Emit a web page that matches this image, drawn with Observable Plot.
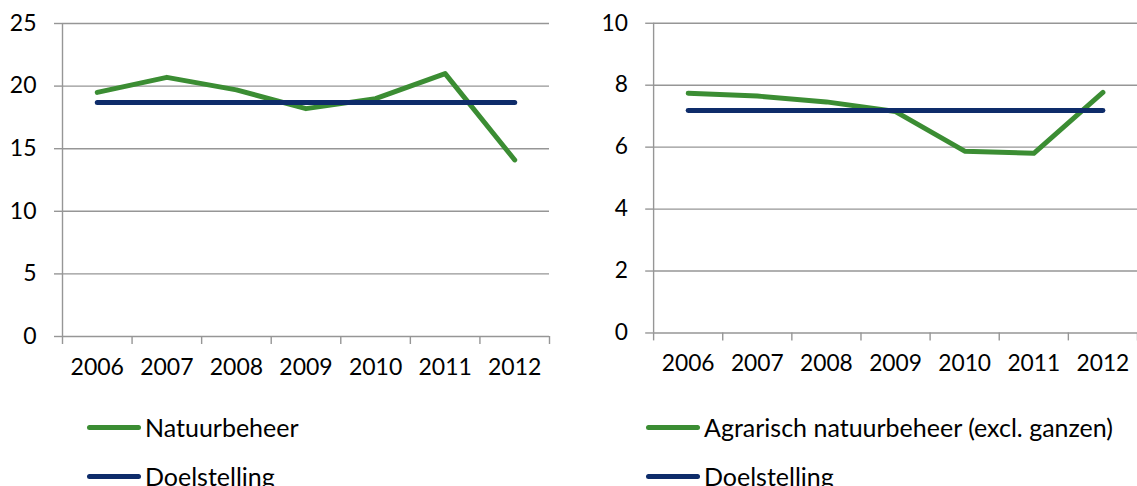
<!DOCTYPE html>
<html>
<head>
<meta charset="utf-8">
<script src="https://cdn.jsdelivr.net/npm/d3@7"></script>
<script src="https://cdn.jsdelivr.net/npm/@observablehq/plot@0.6"></script>
<style>
  html, body { margin: 0; padding: 0; background: #fff; overflow: hidden; width: 1137px; height: 486px; }
  #wrap { position: relative; width: 1137px; height: 486px; font-family: Lato, "Open Sans", sans-serif; }
  .panel { position: absolute; top: 0; }
  .leg { position: absolute; display: flex; align-items: center; font-size: 25px; color: #000; white-space: nowrap; }
  .sw { width: 54px; height: 5px; border-radius: 3px; margin-right: 4px; }
</style>
</head>
<body>
<div id="wrap">
  <div class="panel" id="left" style="left:0"></div>
  <div class="panel" id="right" style="left:568px"></div>
</div>
<script>
const years = [2006, 2007, 2008, 2009, 2010, 2011, 2012];
const natuurbeheer = [19.5, 20.7, 19.7, 18.2, 19.0, 21.0, 14.1];
const doelLeft = [18.7, 18.7, 18.7, 18.7, 18.7, 18.7, 18.7];
const agrarisch = [7.74, 7.65, 7.46, 7.15, 5.87, 5.80, 7.77];
const doelRight = [7.18, 7.18, 7.18, 7.18, 7.18, 7.18, 7.18];
const leftTicks = [0, 5, 10, 15, 20, 25];
const rightTicks = [0, 2, 4, 6, 8, 10];
const seriesNames = {
  left: ["Natuurbeheer", "Doelstelling"],
  right: ["Agrarisch natuurbeheer (excl. ganzen)", "Doelstelling"]
};
const GREEN = "#3b8d33";
const NAVY = "#0e2c6a";
const GRID = "#969696";

const boundaries = years.map(y => y - 0.5).concat([years[years.length - 1] + 0.5]);

function panel(values, ticks, ymax, width, marginLeft, marginRight) {
  const green = years.map((y, i) => ({year: y, v: values[0][i]}));
  const navy = years.map((y, i) => ({year: y, v: values[1][i]}));
  return Plot.plot({
    width, height: 400,
    marginLeft, marginRight, marginTop: 23, marginBottom: 64,
    style: {fontFamily: "Lato, 'Open Sans', sans-serif", fontSize: "23px", color: "#000", background: "transparent", overflow: "visible"},
    x: {type: "linear", domain: [boundaries[0], boundaries[boundaries.length - 1]]},
    y: {domain: [0, ymax]},
    marks: [
      Plot.gridY(ticks, {stroke: GRID, strokeOpacity: 1, strokeWidth: 1.4}),
      Plot.ruleX([boundaries[0]], {stroke: GRID, strokeWidth: 1.4}),
      Plot.axisY(ticks, {tickSize: 8, tickPadding: 18, stroke: GRID, strokeWidth: 1.4, strokeOpacity: 1, label: null, fontSize: 23}),
      Plot.axisX(boundaries, {tickSize: 8, tickFormat: () => "", stroke: GRID, strokeWidth: 1.4, strokeOpacity: 1, label: null}),
      Plot.axisX(years, {tickSize: 0, tickPadding: 22, tickFormat: d => String(d), label: null, fontSize: 23}),
      Plot.lineY(green, {x: "year", y: "v", stroke: GREEN, strokeWidth: 5, strokeLinecap: "round", strokeLinejoin: "round"}),
      Plot.lineY(navy, {x: "year", y: "v", stroke: NAVY, strokeWidth: 5, strokeLinecap: "round", strokeLinejoin: "round"})
    ]
  });
}

document.getElementById("left").append(panel([natuurbeheer, doelLeft], leftTicks, 25, 568, 62, 19));
document.getElementById("right").append(panel([agrarisch, doelRight], rightTicks, 10, 575, 86, 0));

function legend(x, y, color, text) {
  const d = document.createElement("div");
  d.className = "leg";
  d.style.left = x + "px";
  d.style.top = (y - 15) + "px";
  d.style.height = "30px";
  const s = document.createElement("div");
  s.className = "sw";
  s.style.background = color;
  d.append(s);
  const t = document.createElement("span");
  t.textContent = text;
  d.append(t);
  document.getElementById("wrap").append(d);
}
legend(87, 427, GREEN, seriesNames.left[0]);
legend(87, 476, NAVY, seriesNames.left[1]);
legend(646, 427, GREEN, seriesNames.right[0]);
legend(646, 476, NAVY, seriesNames.right[1]);
</script>
</body>
</html>
